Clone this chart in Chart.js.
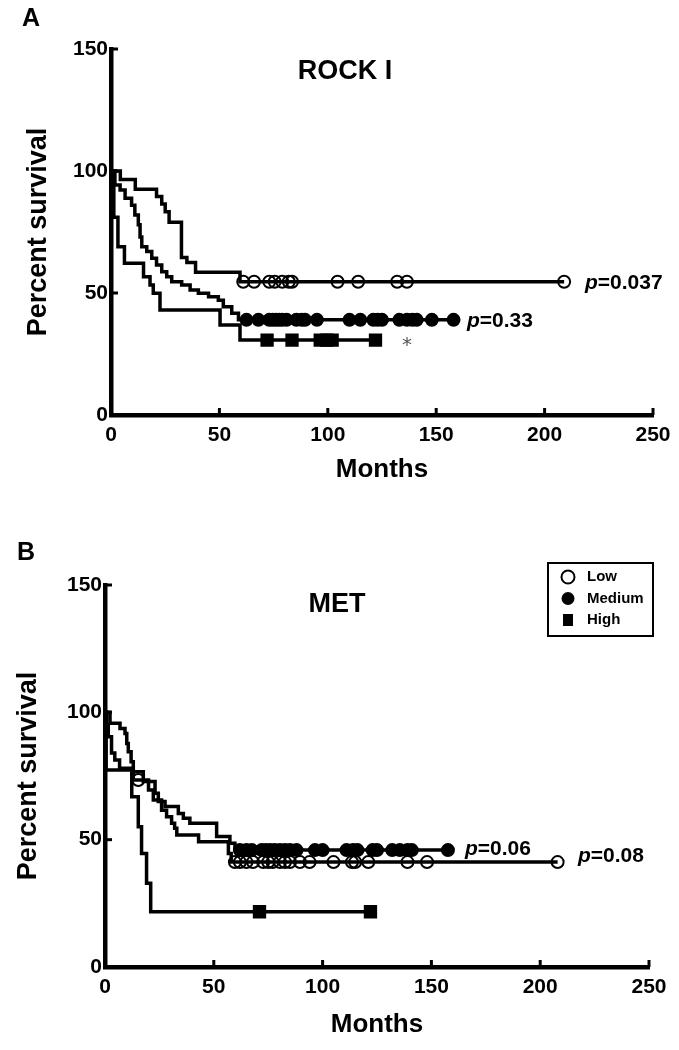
<!DOCTYPE html>
<html>
<head>
<meta charset="utf-8">
<script src="https://cdn.jsdelivr.net/npm/chart.js@4.4.0/dist/chart.umd.min.js"></script>
<style>
html, body { margin: 0; padding: 0; background: #fff; }
#wrap { position: relative; width: 679px; height: 1050px; }
canvas { position: absolute; left: 0; }
</style>
</head>
<body>
<div id="wrap">
  <canvas id="rock" width="679" height="520" style="top:0"></canvas>
  <canvas id="met" width="679" height="530" style="top:520px"></canvas>
</div>
<script>
// axis ticks (months / percent)
const monthTicks = [0, 50, 100, 150, 200, 250];
const survTicks = [0, 50, 100, 150];

// ROCK I  -- step times (months) and survival (%), censor times
const rockLowT = [0, 4.3, 11.2, 21, 23.4, 25, 26.8, 32.5, 35, 39, 59.5];
const rockLowS = [100, 96.5, 92.5, 89.5, 86.5, 83.3, 79, 64.5, 62.5, 58.5, 54.6];
const rockLowCens = [61, 66, 73, 75.5, 79, 82, 83.5, 104.5, 114, 132, 136.5, 209];

const rockMedT = [0, 1.8, 4.2, 6.5, 9.5, 11, 12.6, 13.4, 14.2, 16.5, 18.8, 21, 23.4, 25.7, 28, 32.6, 36.5, 40.3, 45, 49.5, 51.8, 55.7, 58.8];
const rockMedS = [100, 94.3, 92.2, 88.8, 86, 82, 78, 73, 69, 67, 64.2, 61.5, 58.7, 56.7, 54.6, 53.3, 51.2, 49.9, 48.5, 47, 44.4, 41.7, 39];
const rockMedCens = [62.5, 68, 73, 74.5, 76, 77.5, 79, 81, 85.5, 88, 89.5, 95, 110, 115, 121, 123, 125, 133, 136.5, 139, 141, 148, 158];

const rockHighT = [0, 1.3, 3.2, 6.2, 15, 18, 19.5, 22.6, 50.3, 59.5];
const rockHighS = [100, 81, 69, 62.2, 56.7, 53.3, 49.9, 43, 36.9, 30.7];
const rockHighCens = [72, 83.5, 96.5, 99.5, 102, 122];

// MET
const metLowT = [0, 0.8, 1.5, 3, 4.5, 6.7, 13, 20, 22.2, 26, 28.3, 30.6, 32, 33, 43, 56.7, 58];
const metLowS = [100, 95, 90.4, 84, 81.3, 78, 73.4, 69.5, 65.6, 61.6, 59, 56.4, 54.5, 51.8, 49.2, 44.6, 41.2];
const metLowCens = [15.3, 59.7, 62, 65, 68, 72.7, 75, 77, 80.4, 82.7, 85, 89.6, 94, 105, 113.5, 115, 121, 139, 148, 208];

const metMedT = [0, 2.3, 6.9, 9.2, 10, 10.7, 12, 13, 17.6, 23, 24.5, 27.6, 33.7, 36, 39, 51.3, 57.4, 59.7];
const metMedS = [100, 95.7, 93.7, 91.7, 87.8, 84.5, 80.6, 76.7, 72.8, 68.2, 65, 63, 60.3, 58.4, 56.4, 51.2, 48.6, 45.9];
const metMedCens = [62, 65, 67.5, 72, 74, 76, 78, 80.4, 82.7, 85, 88, 96.5, 100, 111, 114, 116, 123, 125, 132, 135.5, 139, 141, 157.6];

const metHighT = [0, 0.5, 12.3, 15.3, 16.8, 19.1, 21];
const metHighS = [100, 77.4, 66.9, 55.1, 44.6, 32.9, 21.7];
const metHighCens = [71, 122];

Chart.defaults.font.family = "'Liberation Sans', Arial, sans-serif";
Chart.defaults.color = '#000';

function survAt(times, surv, t) {
    let s = surv[0];
    times.forEach((tt, i) => { if (tt <= t) s = surv[i]; });
    return s;
}

function curve(times, surv, cens) {
    const pts = times.map((t, i) => ({x: t, y: surv[i]}));
    pts.push({x: Math.max(...cens), y: surv[surv.length - 1]});
    return {data: pts, showLine: true, stepped: true, borderColor: '#000', borderWidth: 3.5, pointRadius: 0, order: 2};
}

function marks(times, surv, cens, style) {
    return Object.assign({
        data: cens.map(t => ({x: t, y: survAt(times, surv, t)})),
        showLine: false, borderColor: '#000', borderWidth: 2, order: 1
    }, style);
}

const openCircle = {pointStyle: 'circle', pointRadius: 6, backgroundColor: 'rgba(0,0,0,0)'};
const fullCircle = {pointStyle: 'circle', pointRadius: 6, backgroundColor: '#000'};
const square = {pointStyle: 'rect', pointRadius: 8, backgroundColor: '#000'};

const decor = {
    id: 'decor',
    afterDraw(chart, args, opts) {
        const {ctx} = chart;
        const x = chart.scales.x, y = chart.scales.y;
        ctx.save();
        ctx.strokeStyle = '#000';
        ctx.lineWidth = 3;
        x.ticks.forEach(t => {
            const px = x.getPixelForValue(t.value);
            ctx.beginPath(); ctx.moveTo(px, y.bottom); ctx.lineTo(px, y.bottom - 7); ctx.stroke();
        });
        y.ticks.forEach(t => {
            const py = y.getPixelForValue(t.value);
            ctx.beginPath(); ctx.moveTo(x.left, py); ctx.lineTo(x.left + 7, py); ctx.stroke();
        });
        ctx.fillStyle = '#000';
        ctx.textBaseline = 'middle';
        // panel letter and title
        ctx.textAlign = 'left';
        ctx.font = "bold 25px 'Liberation Sans', Arial, sans-serif";
        ctx.fillText(opts.letter[0], opts.letter[1], opts.letter[2]);
        ctx.textAlign = 'center';
        ctx.font = "bold 27px 'Liberation Sans', Arial, sans-serif";
        ctx.fillText(opts.title[0], opts.title[1], opts.title[2]);
        // p values
        ctx.textAlign = 'left';
        opts.pvals.forEach(p => {
            ctx.font = "italic bold 21px 'Liberation Sans', Arial, sans-serif";
            ctx.fillText('p', p[1], p[2]);
            const w = ctx.measureText('p').width;
            ctx.font = "bold 21px 'Liberation Sans', Arial, sans-serif";
            ctx.fillText(p[0], p[1] + w, p[2]);
        });
        if (opts.star) {
            ctx.fillStyle = '#555';
            ctx.font = "20px 'DejaVu Sans', sans-serif";
            ctx.fillText('*', opts.star[0], opts.star[1] + 3);
            ctx.fillStyle = '#000';
        }
        if (opts.legend) {
            const [lx, ly, lw, lh] = opts.legend;
            ctx.lineWidth = 2;
            ctx.strokeRect(lx, ly, lw, lh);
            const items = [['Low', openCircle], ['Medium', fullCircle], ['High', square]];
            ctx.font = "bold 15px 'Liberation Sans', Arial, sans-serif";
            items.forEach((it, i) => {
                const cy = ly + 14 + i * 21.5;
                const cx = lx + 20;
                ctx.lineWidth = 2;
                ctx.beginPath();
                if (it[0] === 'High') {
                    ctx.fillRect(cx - 5, cy - 6, 10, 12);
                } else {
                    ctx.arc(cx, cy, 6.5, 0, Math.PI * 2);
                    if (it[0] === 'Low') ctx.stroke(); else ctx.fill();
                }
                ctx.fillText(it[0], lx + 39, cy);
            });
        }
        ctx.restore();
    }
};

function makeChart(id, sets, lay) {
    const ctx = document.getElementById(id).getContext('2d');
    return new Chart(ctx, {
        type: 'scatter',
        data: {datasets: sets},
        options: {
            responsive: false,
            animation: false,
            events: [],
            layout: {padding: {left: 0, top: lay.top, right: lay.right, bottom: lay.bottom}},
            plugins: {legend: {display: false}, tooltip: {enabled: false}, decor: lay.decor},
            scales: {
                x: {
                    type: 'linear', min: 0, max: 250,
                    afterBuildTicks: ax => { ax.ticks = monthTicks.map(v => ({value: v})); },
                    afterFit: ax => { ax.height = lay.xh; },
                    grid: {drawOnChartArea: false, drawTicks: false},
                    border: {color: '#000', width: 4.5},
                    ticks: {padding: 8, maxRotation: 0, autoSkip: false, font: {size: 21, weight: 'bold'}},
                    title: {display: true, text: 'Months', font: {size: 26, weight: 'bold'}, padding: {top: 0, bottom: 10}}
                },
                y: {
                    type: 'linear', min: 0, max: 150,
                    afterBuildTicks: ax => { ax.ticks = survTicks.map(v => ({value: v})); },
                    afterFit: ax => { ax.width = lay.yw; },
                    grid: {drawOnChartArea: false, drawTicks: false},
                    border: {color: '#000', width: 4.5},
                    ticks: {padding: 3, font: {size: 21, weight: 'bold'}},
                    title: {display: true, text: 'Percent survival', font: {size: 27, weight: 'bold'}, padding: {top: lay.ytitle, bottom: 0}}
                }
            }
        },
        plugins: [decor]
    });
}

makeChart('rock', [
    marks(rockLowT, rockLowS, rockLowCens, openCircle),
    marks(rockMedT, rockMedS, rockMedCens, fullCircle),
    marks(rockHighT, rockHighS, rockHighCens, square),
    curve(rockLowT, rockLowS, rockLowCens),
    curve(rockMedT, rockMedS, rockMedCens),
    curve(rockHighT, rockHighS, rockHighCens)
], {
    top: 49, right: 26, bottom: 25, xh: 80, yw: 111, ytitle: 22,
    decor: {
        letter: ['A', 22, 19],
        title: ['ROCK I', 345, 72],
        pvals: [['=0.037', 585, 283], ['=0.33', 467, 321]],
        star: [402, 343]
    }
});

makeChart('met', [
    marks(metLowT, metLowS, metLowCens, openCircle),
    marks(metMedT, metMedS, metMedCens, fullCircle),
    marks(metHighT, metHighS, metHighCens, square),
    curve(metLowT, metLowS, metLowCens),
    curve(metMedT, metMedS, metMedCens),
    curve(metHighT, metHighS, metHighCens)
], {
    top: 65, right: 30, bottom: 0, xh: 83, yw: 105, ytitle: 12,
    decor: {
        letter: ['B', 17, 33],
        title: ['MET', 337, 85],
        pvals: [['=0.06', 465, 329], ['=0.08', 578, 336]],
        legend: [548, 43, 105, 73]
    }
});
</script>
</body>
</html>
